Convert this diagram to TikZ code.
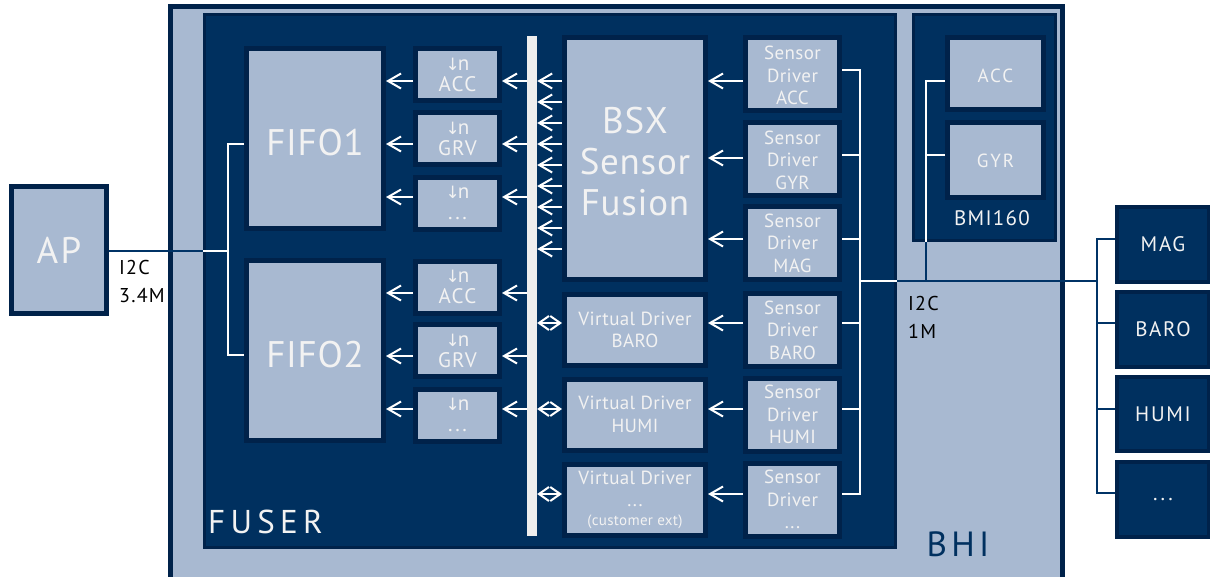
\documentclass[tikz,border=0pt]{standalone}
\usepackage{fontspec}
\setmainfont{PT Sans}[LetterSpace=2]
\newfontfamily\dvs{DejaVu Sans}
\usetikzlibrary{arrows.meta}
\definecolor{lightb}{HTML}{A8B9D1}
\definecolor{navy}{HTML}{00305F}
\definecolor{bdr}{HTML}{00224A}
\definecolor{txt}{HTML}{F2F2F2}
\definecolor{busc}{HTML}{EEEEEE}
\definecolor{lnavy}{HTML}{003366}
\newcommand{\dn}{{\dvs\fontsize{17}{21}\selectfont↓}\kern-2pt n}
\tikzset{
  lbox/.style={draw=bdr, line width=5pt, fill=lightb, text=txt, align=center, inner sep=0pt},
  nbox/.style={draw=bdr, line width=3.5pt, fill=navy, text=txt, align=center, inner sep=0pt},
  xbox/.style={draw=bdr, line width=4pt, fill=navy, text=txt, align=center, inner sep=0pt,
    font=\fontsize{21}{24}\selectfont\addfontfeature{LetterSpace=8}, minimum width=92pt},
  wl/.style={draw=white, line width=2pt},
  nl/.style={draw=lnavy, line width=2pt},
  tip/.tip={Straight Barb[length=13pt,width=15pt]},
  stip/.tip={Straight Barb[length=10pt,width=14pt]},
  arr/.style={wl, -tip},
  darr/.style={wl, stip-stip},
  fbig/.style={font=\fontsize{37}{41}\selectfont},
  fsd/.style={font=\fontsize{19}{22.5}\selectfont},
  fsm/.style={font=\fontsize{21}{21}\selectfont\addfontfeature{LetterSpace=6}},
  sdbox/.style={lbox, fsd, minimum width=94pt, minimum height=73pt},
  smbox/.style={lbox, fsm, minimum width=84pt, minimum height=52pt},
  vdbox/.style={lbox, fsd, minimum width=141pt, minimum height=71pt},
  ttext/.style={text=txt, align=center, inner sep=0pt},
}
\begin{document}
\begin{tikzpicture}[x=1pt,y=-1pt]
\useasboundingbox (0,0) rectangle (1210,576);
% outer containers
\node[lbox, line width=5pt, minimum width=892pt, minimum height=620pt] (bhi) at (616.5,316) {};
\node[nbox, minimum width=691pt, minimum height=533pt] (fuser) at (550,281) {};
\node[nbox, minimum width=142pt, minimum height=226pt] (bmi) at (984.5,127.5) {};
\node[lbox, font=\fontsize{37}{41}\selectfont\addfontfeature{LetterSpace=6}, minimum width=95pt, minimum height=127pt] (ap) at (59,250) {AP};
% external sensors
\node[xbox, minimum height=75pt] (xmag) at (1163,244) {MAG};
\node[xbox, minimum height=75pt] (xbaro) at (1163,329.5) {BARO};
\node[xbox, minimum height=74pt] (xhumi) at (1163,414) {HUMI};
\node[xbox, minimum height=75pt] (xdots) at (1163,499.5) {...};
% BMI160 content
\node[lbox, minimum width=96pt, minimum height=72pt] (bacc) at (995.5,73.5) {};
\node[ttext, font=\fontsize{19}{22}\selectfont\addfontfeature{LetterSpace=10}] (bacct) at (995.5,75.5) {ACC};
\node[lbox, minimum width=96pt, minimum height=75pt] (bgyr) at (995.5,160) {};
\node[ttext, font=\fontsize{19}{22}\selectfont\addfontfeature{LetterSpace=10}] (bgyrt) at (995.5,161) {GYR};
\node[text=txt, font=\fontsize{21}{24}\selectfont\addfontfeature{LetterSpace=6}] (bmilabel) at (992,218) {BMI160};
% FIFOs
\node[lbox, minimum width=137pt, minimum height=180pt] (fifo1) at (315,138.5) {};
\node[ttext, fbig] (fifo1t) at (315,143) {FIFO1};
\node[lbox, minimum width=137pt, minimum height=180pt] (fifo2) at (315,350.5) {};
\node[ttext, fbig] (fifo2t) at (315,355) {FIFO2};
% downsampling boxes
\node[smbox] (acc1) at (457.5,74.5) {\dn\\ACC};
\node[smbox] (grv1) at (457.5,138.5) {\dn\\GRV};
\node[smbox] (dots1) at (457.5,203) {\dn\\...};
\node[smbox] (acc2) at (457.5,287) {\dn\\ACC};
\node[smbox] (grv2) at (457.5,350.5) {\dn\\GRV};
\node[smbox] (dots2) at (457.5,415) {\dn\\...};
% bus
\node[fill=busc, inner sep=0pt, minimum width=10pt, minimum height=500pt] (bus) at (532,286) {};
% fusion and virtual drivers
\node[lbox, minimum width=141pt, minimum height=242pt] (bsx) at (635,158.5) {};
\node[ttext, fbig] (bsxt) at (635,162) {BSX\\Sensor\\Fusion};
\node[vdbox] (vdbaro) at (635,330) {Virtual Driver\\BARO};
\node[vdbox] (vdhumi) at (635,414.5) {Virtual Driver\\HUMI};
\node[vdbox] (vddots) at (635,499.5) {Virtual Driver\\...\\[-4pt]{\fontsize{15}{15}\selectfont(customer ext)}};
% sensor drivers
\node[sdbox] (sdacc) at (792.5,74) {};
\node[ttext, fsd] (sdacct) at (792.5,75.5) {Sensor\\Driver\\ACC};
\node[sdbox] (sdgyr) at (792.5,158.5) {};
\node[ttext, fsd] (sdgyrt) at (792.5,160) {Sensor\\Driver\\GYR};
\node[sdbox] (sdmag) at (792.5,243) {Sensor\\Driver\\MAG};
\node[sdbox] (sdbaro) at (792.5,330) {Sensor\\Driver\\BARO};
\node[sdbox] (sdhumi) at (792.5,414.5) {Sensor\\Driver\\HUMI};
\node[sdbox] (sddots) at (792.5,499.5) {Sensor\\Driver\\...};
% labels
\node[text=txt, font=\fontsize{33}{36}\selectfont\addfontfeature{LetterSpace=16}, anchor=west, inner sep=0pt] (fuserlabel) at (208,522) {FUSER};
\node[text=navy, font=\fontsize{35}{36}\selectfont\addfontfeature{LetterSpace=12}, inner sep=0pt] (bhilabel) at (958,544) {BHI};
\node[text=black, font=\fontsize{20}{28}\selectfont\addfontfeature{LetterSpace=6}, align=left, anchor=west, inner sep=0pt] (i2ca) at (119,281) {I2C\\3.4M};
\node[text=black, font=\fontsize{20}{28}\selectfont\addfontfeature{LetterSpace=6}, align=left, anchor=west, inner sep=0pt] (i2cb) at (908,317) {I2C\\1M};
% AP to FIFOs
\coordinate (fj) at (228,251);
\draw[nl] (ap.east |- fj) -- (fuser.west |- fj);
\draw[wl] (fuser.west |- fj) -- (fj);
\draw[wl] (fifo1.west |- 0,144) -| (fj) |- (fifo2.west |- 0,355);
% downsample arrows
\foreach \b/\f/\y in {acc1/fifo1/81, grv1/fifo1/144, dots1/fifo1/197, acc2/fifo2/293, grv2/fifo2/356, dots2/fifo2/409}{
  \draw[arr] (bus.west |- 0,\y) -- (\b.east |- 0,\y);
  \draw[arr] (\b.west |- 0,\y) -- (\f.east |- 0,\y);
}
% fusion outputs to bus
\foreach \k in {0,...,8}{
  \draw[arr] (bsx.west |- 0,{81+21*\k}) -- (bus.east |- 0,{81+21*\k});
}
% virtual drivers <-> bus
\foreach \v/\y in {vdbaro/323, vdhumi/409, vddots/494}{
  \draw[darr] (bus.east |- 0,\y) -- (\v.west |- 0,\y);
}
% sensor drivers to fusion / virtual drivers
\draw[arr] (sdacc.west |- 0,81) -- (bsx.east |- 0,81);
\draw[arr] (sdgyr.west |- 0,158) -- (bsx.east |- 0,158);
\draw[arr] (sdmag.west |- 0,239) -- (bsx.east |- 0,239);
\draw[arr] (sdbaro.west |- 0,323) -- (vdbaro.east |- 0,323);
\draw[arr] (sdhumi.west |- 0,409) -- (vdhumi.east |- 0,409);
\draw[arr] (sddots.west |- 0,494) -- (vddots.east |- 0,494);
% sensor driver bracket
\coordinate (sj) at (860,281);
\draw[wl] (sdacc.east |- 0,70) -| (sj |- 0,494) -- (sddots.east |- 0,494);
\draw[wl] (sdgyr.east |- 0,155) -- (sj |- 0,155);
\draw[wl] (sdmag.east |- 0,239) -- (sj |- 0,239);
\draw[wl] (sdbaro.east |- 0,323) -- (sj |- 0,323);
\draw[wl] (sdhumi.east |- 0,409) -- (sj |- 0,409);
\draw[wl] (sj) -- (fuser.east |- sj);
\coordinate (xj) at (1097,281);
\draw[nl] (fuser.east |- sj) -- (xj);
% external bracket
\draw[nl] (xmag.west |- 0,239) -| (xj |- 0,493) -- (xdots.west |- 0,493);
\draw[nl] (xbaro.west |- 0,323) -- (xj |- 0,323);
\draw[nl] (xhumi.west |- 0,409) -- (xj |- 0,409);
% BMI160 bracket
\coordinate (bj) at (926,281);
\draw[wl] (bacc.west |- 0,81) -| (bj |- bmi.south);
\draw[wl] (bgyr.west |- 0,155) -- (bj |- 0,155);
\draw[nl] (bj |- bmi.south) -- (bj);
\end{tikzpicture}
\end{document}
